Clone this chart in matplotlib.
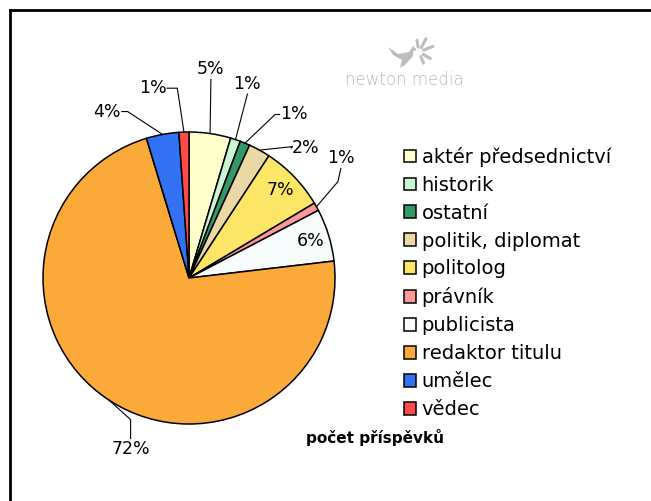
import numpy as np
import matplotlib.pyplot as plt
from matplotlib.lines import Line2D
from matplotlib.patches import Polygon

# shares of contributions (percent)
categories = ["aktér předsednictví", "historik", "ostatní", "politik, diplomat",
              "politolog", "právník", "publicista", "redaktor titulu",
              "umělec", "vědec"]
values = [4.6, 1.1, 1.1, 2.4, 7.2, 0.9, 5.8, 72.0, 3.6, 1.1]
colors = ["#ffffcc", "#ccf5d5", "#339966", "#ebd8a4", "#fbe666",
          "#ff9999", "#f8fbfb", "#fbaa3a", "#3270f4", "#ff4a4a"]
title = "počet příspěvků"

# label positions in pie units (None = inside the wedge) and leader elbows
label_pos = [(0.15, 1.43), (0.40, 1.33), (0.72, 1.12), (0.80, 0.89),
             None, (1.04, 0.82), None, (-0.40, -1.17),
             (-0.56, 1.14), (-0.25, 1.30)]
elbows = [None, None, (0.59, 1.12), (0.71, 0.90),
          None, (1.02, 0.66), None, (-0.40, -0.97),
          (-0.42, 1.14), (-0.08, 1.30)]

W, H = 651, 501
fig = plt.figure(figsize=(W / 100, H / 100), dpi=100)
plt.rcParams["font.family"] = "DejaVu Sans"

cx, cy, r = 189, 278, 146
ax = fig.add_axes([(cx - r) / W, (H - cy - r) / H, 2 * r / W, 2 * r / H])

wedges, _ = ax.pie(values, colors=colors, startangle=90, counterclock=False,
                   radius=1.0, wedgeprops=dict(edgecolor="black", linewidth=1.1))
for w in wedges:
    w.set_clip_on(False)
ax.set_xlim(-1, 1)
ax.set_ylim(-1, 1)
ax.set_aspect("equal")
ax.axis("off")

total = sum(values)
fs = 12.5
for w, v, pos, elb in zip(wedges, values, label_pos, elbows):
    pct = "%d%%" % round(v / total * 100)
    mid = np.deg2rad((w.theta1 + w.theta2) / 2)
    if pos is None:
        ax.text(0.87 * np.cos(mid), 0.87 * np.sin(mid), pct, ha="center",
                va="center", fontsize=fs)
        continue
    ax.text(pos[0], pos[1], pct, ha="center", va="center", fontsize=fs,
            clip_on=False)
    edge = (np.cos(mid), np.sin(mid))
    if elb is None:
        start = (pos[0], pos[1] - 0.07)
        pts = [start, edge]
    else:
        if abs(elb[1] - pos[1]) < 0.03:
            sx = pos[0] - 0.1 if elb[0] < pos[0] else pos[0] + 0.1
            start = (sx, pos[1])
        else:
            start = (pos[0], pos[1] - 0.07 if elb[1] < pos[1] else pos[1] + 0.07)
        pts = [start, elb, edge]
    xs, ys = zip(*pts)
    ax.add_line(Line2D(xs, ys, color="black", linewidth=0.8, clip_on=False))

lfs = 14
leg = fig.legend(wedges, categories, loc="upper left",
                 bbox_to_anchor=(394 / W, 1 - 137 / H), frameon=False,
                 fontsize=lfs, handlelength=0.62, handleheight=0.62,
                 handletextpad=0.3, labelspacing=0.46, borderpad=0)

fig.text(375 / W, 1 - 437 / H, title, ha="center", va="center",
         fontsize=11, fontweight="bold")

# watermark: simple logo + name
gray = "#bdbdbd"
px = lambda x, y: (x / W, 1 - y / H)
bird = [px(388, 47), px(398, 54), px(409, 52), px(414, 45), px(413, 56),
        px(405, 65), px(400, 68), px(402, 60), px(393, 55)]
fig.add_artist(Polygon(bird, closed=True, facecolor=gray, edgecolor="none",
                       transform=fig.transFigure))
for ang, ln in [(100, 12), (62, 15), (22, 15), (-30, 13), (-68, 12), (150, 7)]:
    a = np.deg2rad(ang)
    x0, y0 = 419 + 5 * np.cos(a), 52 - 5 * np.sin(a)
    x1, y1 = 419 + ln * np.cos(a), 52 - ln * np.sin(a)
    fig.add_artist(Line2D([x0 / W, x1 / W], [1 - y0 / H, 1 - y1 / H],
                          color=gray, linewidth=2.2, solid_capstyle="round",
                          transform=fig.transFigure))
fig.text(404 / W, 1 - 80 / H, "newton media", ha="center", va="center",
         fontsize=12, color="#b8b8b8", fontweight="light")

# frame (only top and left edges visible)
fig.add_artist(Line2D([10 / W, 10 / W], [0, 1 - 10 / H], color="black",
                      linewidth=2, transform=fig.transFigure))
fig.add_artist(Line2D([10 / W, 1], [1 - 10 / H, 1 - 10 / H], color="black",
                      linewidth=2, transform=fig.transFigure))

fig.savefig("out.png", dpi=100)
